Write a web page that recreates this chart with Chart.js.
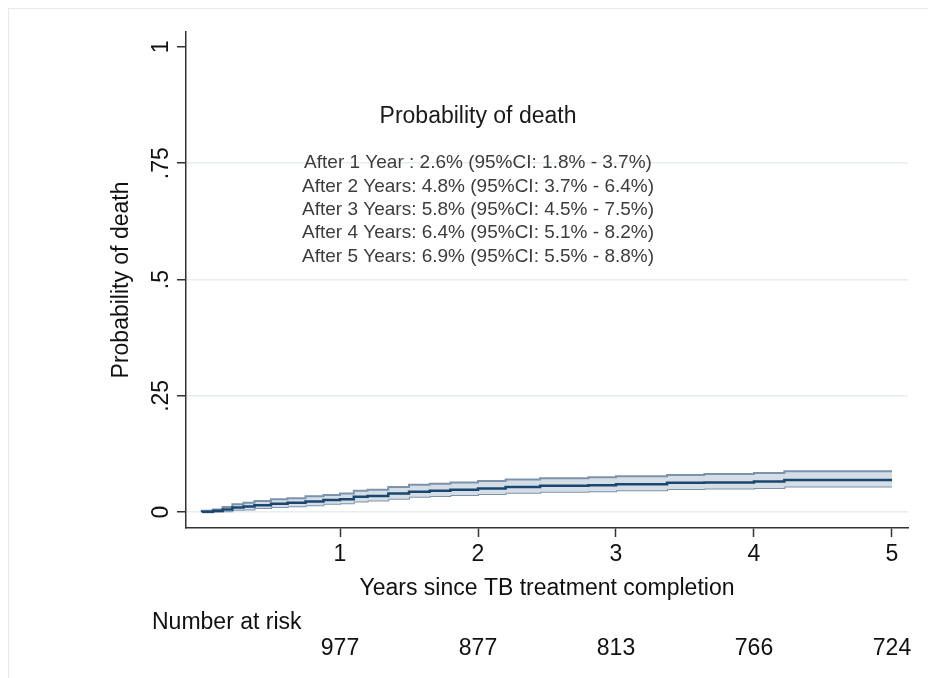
<!DOCTYPE html>
<html>
<head>
<meta charset="utf-8">
<script src="https://cdn.jsdelivr.net/npm/chart.js@4.4.0/dist/chart.umd.min.js"></script>
<style>
  html, body { margin: 0; padding: 0; background: #fff; }
  canvas { display: block; }
</style>
</head>
<body>
<canvas id="kmChart" width="928" height="678"></canvas>
<script>
// Cumulative probability of death (Kaplan-Meier failure)
const timeYears = [0, 0.08, 0.15, 0.22, 0.3, 0.38, 0.5, 0.62, 0.75, 0.88, 1.0, 1.1, 1.2, 1.35, 1.5, 1.65, 1.8, 2.0, 2.2, 2.45, 2.8, 3.0, 3.37, 3.64, 4.0, 4.22, 4.68, 5.0];
const deathProb = [0, 0.001, 0.003, 0.006, 0.010, 0.012, 0.015, 0.018, 0.020, 0.023, 0.026, 0.028, 0.033, 0.035, 0.040, 0.044, 0.046, 0.048, 0.051, 0.054, 0.057, 0.058, 0.060, 0.063, 0.064, 0.066, 0.069, 0.069];
const ciLower   = [0, 0, 0.001, 0.002, 0.005, 0.006, 0.009, 0.011, 0.013, 0.015, 0.018, 0.019, 0.023, 0.025, 0.029, 0.033, 0.035, 0.037, 0.039, 0.042, 0.044, 0.045, 0.047, 0.050, 0.051, 0.052, 0.055, 0.055];
const ciUpper   = [0.001, 0.003, 0.006, 0.011, 0.017, 0.020, 0.024, 0.028, 0.030, 0.034, 0.037, 0.040, 0.046, 0.048, 0.054, 0.059, 0.061, 0.064, 0.067, 0.070, 0.073, 0.075, 0.077, 0.080, 0.082, 0.084, 0.088, 0.088];

const xTicks = [1, 2, 3, 4, 5];
const yTicks = [0, 0.25, 0.5, 0.75, 1];
const yTickLabels = ['0', '.25', '.5', '.75', '1'];
const atRisk = [977, 877, 813, 766, 724];

const summaryTitle = 'Probability of death';
const summaryLines = [
    'After 1 Year : 2.6% (95%CI: 1.8% - 3.7%)',
    'After 2 Years: 4.8% (95%CI: 3.7% - 6.4%)',
    'After 3 Years: 5.8% (95%CI: 4.5% - 7.5%)',
    'After 4 Years: 6.4% (95%CI: 5.1% - 8.2%)',
    'After 5 Years: 6.9% (95%CI: 5.5% - 8.8%)'
];

const FONT = '"Liberation Sans", Arial, sans-serif';

function toPoints(ys) {
    return timeYears.map((t, i) => ({ x: t, y: ys[i] }));
}

// Text that Chart.js doesn't place for us: rotated y labels, notes, risk table
const extrasPlugin = {
    id: 'extras',
    beforeDraw(chart) {
        const ctx = chart.ctx;
        ctx.save();
        ctx.strokeStyle = '#e4eaee';
        ctx.lineWidth = 1;
        ctx.strokeRect(8.5, 8.5, 960, 720);
        ctx.restore();
    },
    afterDraw(chart) {
        const ctx = chart.ctx;
        const xs = chart.scales.x;
        const ys = chart.scales.y;
        ctx.save();

        // y tick labels, rotated like the original
        ctx.fillStyle = '#111';
        ctx.font = '23px ' + FONT;
        ctx.textAlign = 'center';
        ctx.textBaseline = 'middle';
        yTicks.forEach((v, i) => {
            ctx.save();
            ctx.translate(162, ys.getPixelForValue(v));
            ctx.rotate(-Math.PI / 2);
            ctx.fillText(yTickLabels[i], 0, 0);
            ctx.restore();
        });

        // summary block inside the plot
        ctx.fillStyle = '#1a1a1a';
        ctx.font = '23px ' + FONT;
        ctx.fillText(summaryTitle, xs.getPixelForValue(2), ys.getPixelForValue(0.85));
        ctx.fillStyle = '#3c3c3c';
        ctx.font = '19px ' + FONT;
        summaryLines.forEach((line, i) => {
            ctx.fillText(line, xs.getPixelForValue(2), ys.getPixelForValue(0.75 - i * 0.05));
        });

        // number at risk
        ctx.fillStyle = '#111';
        ctx.font = '23px ' + FONT;
        ctx.textAlign = 'left';
        ctx.fillText('Number at risk', 152, 623);
        ctx.textAlign = 'center';
        atRisk.forEach((n, i) => {
            ctx.fillText(String(n), xs.getPixelForValue(xTicks[i]), 649);
        });
        ctx.restore();
    }
};

new Chart(document.getElementById('kmChart'), {
    type: 'line',
    data: {
        datasets: [
            {
                label: 'Probability of death',
                data: toPoints(deathProb),
                stepped: 'after',
                borderColor: '#1a476f',
                borderWidth: 2.5,
                fill: false,
                pointRadius: 0,
                order: 0
            },
            {
                label: 'Upper CI',
                data: toPoints(ciUpper),
                stepped: 'after',
                borderColor: '#7d93ab',
                borderWidth: 2,
                backgroundColor: 'rgb(213, 222, 231)',
                fill: '+1',
                pointRadius: 0,
                order: 1
            },
            {
                label: 'Lower CI',
                data: toPoints(ciLower),
                stepped: 'after',
                borderColor: '#7d93ab',
                borderWidth: 2,
                fill: false,
                pointRadius: 0,
                order: 2
            }
        ]
    },
    options: {
        responsive: false,
        animation: false,
        layout: {
            padding: { top: 32, right: 20, left: 104, bottom: 70 }
        },
        plugins: {
            legend: { display: false },
            tooltip: { enabled: false }
        },
        scales: {
            x: {
                type: 'linear',
                min: -0.116,
                max: 5.116,
                afterBuildTicks: (scale) => { scale.ticks = xTicks.map(v => ({ value: v })); },
                afterFit: (scale) => { scale.height = 80; },
                grid: {
                    drawOnChartArea: false,
                    drawTicks: true,
                    tickLength: 9,
                    tickColor: '#333',
                    tickWidth: 1.5
                },
                border: { color: '#333', width: 1.5 },
                ticks: {
                    color: '#111',
                    padding: 4,
                    maxRotation: 0,
                    font: { family: FONT, size: 23 }
                },
                title: {
                    display: true,
                    text: 'Years since TB treatment completion',
                    color: '#111',
                    padding: { top: 4, bottom: 6 },
                    font: { family: FONT, size: 23 }
                }
            },
            y: {
                type: 'linear',
                min: -0.034,
                max: 1.032,
                afterBuildTicks: (scale) => { scale.ticks = yTicks.map(v => ({ value: v })); },
                afterFit: (scale) => { scale.width = 82; },
                grid: {
                    color: (c) => (c.tick && c.tick.value === 1 ? 'rgba(0,0,0,0)' : '#e6eef1'),
                    lineWidth: 1.5,
                    drawTicks: true,
                    tickLength: 9,
                    tickColor: '#333',
                    tickWidth: 1.5
                },
                border: { color: '#333', width: 1.5 },
                ticks: { display: false },
                title: {
                    display: true,
                    text: 'Probability of death',
                    color: '#111',
                    padding: { top: 4, bottom: 4 },
                    font: { family: FONT, size: 23 }
                }
            }
        }
    },
    plugins: [extrasPlugin]
});
</script>
</body>
</html>
